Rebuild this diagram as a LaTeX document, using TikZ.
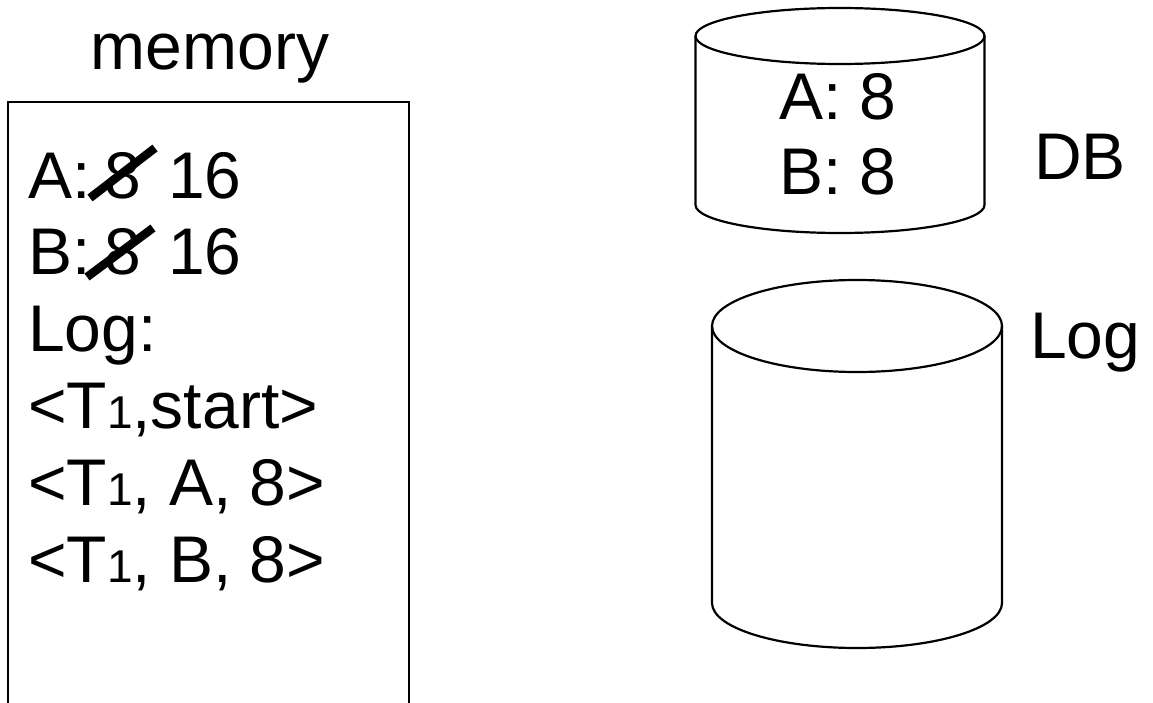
\documentclass[tikz,border=0pt]{standalone}
\usepackage{fontspec}
\setmainfont{Liberation Sans}
\newcommand{\bigtxt}{\fontsize{66}{78}\selectfont}
\newcommand{\subone}[1]{{\fontsize{46}{46}\selectfont #1}}
\begin{document}
\begin{tikzpicture}[x=1pt,y=-1pt,
  line/.style={line width=2.2pt,black},
  strike/.style={line width=8.5pt,black},
  txt/.style={inner sep=0pt,font=\bigtxt,anchor=base west},
  ctxt/.style={inner sep=0pt,font=\bigtxt,anchor=base},
  cyl/.style={line width=2.2pt}]
\useasboundingbox (0,0) rectangle (1153,703);
% memory box
\draw[line] (8,703) -- (8,102) -- (409,102) -- (409,703);
\node[ctxt] (mem) at (210,70) {memory};
\node[txt] (la) at (28,199) {A:};
\node[txt] (lb) at (28,274) {B:};
\node[txt] (ia) at (104,199) {8};
\node[txt] (ib) at (104,274) {8};
\node[txt] (na) at (168,199) {16};
\node[txt] (nb) at (168,274) {16};
\draw[strike] (90,198) -- (155,148);
\draw[strike] (87,277) -- (153,228);
\node[txt] (llog) at (28,351) {Log:};
\node[txt] (l1) at (28,428) {<T\subone{1},start>};
\node[txt] (l2) at (28,505) {<T\subone{1}, A, 8>};
\node[txt] (l3) at (28,582) {<T\subone{1}, B, 8>};
% DB cylinder
\draw[cyl] (840,36) ellipse [x radius=144.5, y radius=28];
\draw[cyl] (695.5,36) -- (695.5,205) arc[start angle=180,end angle=0,x radius=144.5,y radius=28] -- (984.5,36);
\node[ctxt] (dba) at (838,120) {A: 8};
\node[ctxt] (dbb) at (838,195) {B: 8};
\node[txt] (dbl) at (1034,180) {DB};
% Log cylinder
\draw[cyl] (857,326) ellipse [x radius=145, y radius=46];
\draw[cyl] (712,326) -- (712,603) arc[start angle=180,end angle=0,x radius=145,y radius=45] -- (1002,326);
\node[txt] (logl) at (1030,358) {Log};
\end{tikzpicture}
\end{document}
